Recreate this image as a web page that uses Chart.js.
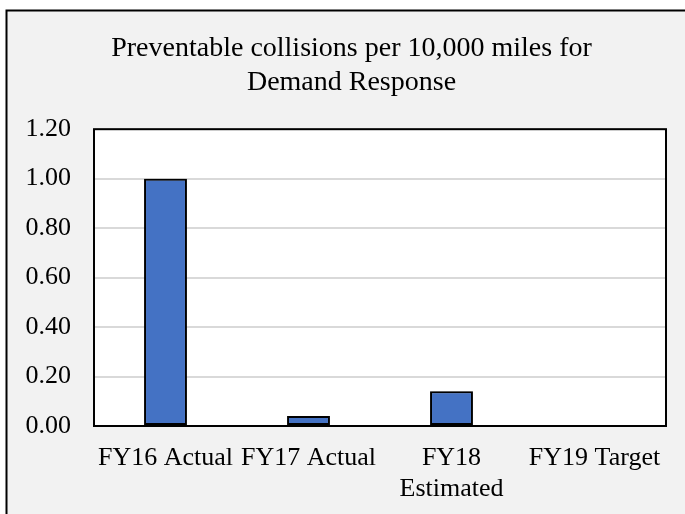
<!DOCTYPE html>
<html>
<head>
<meta charset="utf-8">
<script src="https://cdn.jsdelivr.net/npm/chart.js@4.4.1/dist/chart.umd.min.js"></script>
<style>
  html, body { margin: 0; padding: 0; background: #ffffff; }
  #wrap { width: 685px; height: 514px; }
</style>
</head>
<body>
<div id="wrap"><canvas id="c" width="685" height="514"></canvas></div>
<script>
// Categories and values
const categories = ['FY16 Actual', 'FY17 Actual', ['FY18', 'Estimated'], 'FY19 Target'];
const collisionsPer10k = [1.00, 0.04, 0.14, 0];
const titleLines = ['Preventable collisions per 10,000 miles for', 'Demand Response'];
const yMin = 0, yMax = 1.2, yStep = 0.2;

const serif = '"Liberation Serif", "Times New Roman", serif';

// Gray panel with a black frame, and white plot area with a black border
const framePlugin = {
  id: 'frame',
  afterLayout(chart) {
    // centre the title over the panel rather than over the whole canvas
    if (chart.titleBlock) {
      chart.titleBlock.left = 37;
      chart.titleBlock.right = chart.chartArea.right;
    }
  },
  beforeDraw(chart) {
    const ctx = chart.ctx;
    const a = chart.chartArea;
    ctx.save();
    ctx.fillStyle = '#ffffff';
    ctx.fillRect(0, 0, chart.width, chart.height);
    ctx.fillStyle = '#f2f2f2';
    ctx.fillRect(6, 10, chart.width, chart.height);
    ctx.strokeStyle = '#000000';
    ctx.lineWidth = 2;
    ctx.strokeRect(6.5, 10.5, chart.width + 10, chart.height + 10);
    ctx.fillStyle = '#ffffff';
    ctx.fillRect(a.left, a.top, a.right - a.left, a.bottom - a.top);
    ctx.restore();
  },
  beforeDatasetsDraw(chart) {
    const ctx = chart.ctx;
    ctx.save();
    ctx.shadowColor = 'rgba(0,0,0,0.35)';
    ctx.shadowBlur = 5;
  },
  afterDatasetsDraw(chart) {
    chart.ctx.restore();
    const ctx = chart.ctx;
    const a = chart.chartArea;
    ctx.save();
    ctx.strokeStyle = '#000000';
    ctx.lineWidth = 2;
    ctx.strokeRect(a.left, a.top, a.right - a.left, a.bottom - a.top);
    ctx.restore();
  }
};

new Chart(document.getElementById('c'), {
  type: 'bar',
  data: {
    labels: categories,
    datasets: [{
      data: collisionsPer10k,
      backgroundColor: '#4472c4',
      borderColor: '#000000',
      borderWidth: 2,
      borderSkipped: false,
      categoryPercentage: 1.0,
      barPercentage: 0.3
    }]
  },
  options: {
    responsive: false,
    animation: false,
    devicePixelRatio: 1,
    layout: { padding: { left: 0, right: 19, top: 0, bottom: 0 } },
    plugins: {
      legend: { display: false },
      tooltip: { enabled: false },
      title: {
        display: true,
        text: titleLines,
        color: '#000000',
        font: { family: serif, size: 28, weight: 'normal', lineHeight: 1.2 },
        padding: { top: 32, bottom: 30 }
      }
    },
    scales: {
      x: {
        grid: { display: false, drawTicks: false },
        border: { display: false },
        ticks: {
          color: '#000000',
          font: { family: serif, size: 26, lineHeight: 1.18 },
          padding: 17,
          maxRotation: 0,
          autoSkip: false
        },
        afterFit(scale) { scale.height = 88; }
      },
      y: {
        min: yMin,
        max: yMax,
        grid: { color: '#d9d9d9', lineWidth: 2, drawTicks: false },
        border: { display: false },
        ticks: {
          stepSize: yStep,
          color: '#000000',
          font: { family: serif, size: 26 },
          padding: 23,
          callback: v => Number(v).toFixed(2)
        },
        afterFit(scale) { scale.width = 94; }
      }
    }
  },
  plugins: [framePlugin]
});
</script>
</body>
</html>
